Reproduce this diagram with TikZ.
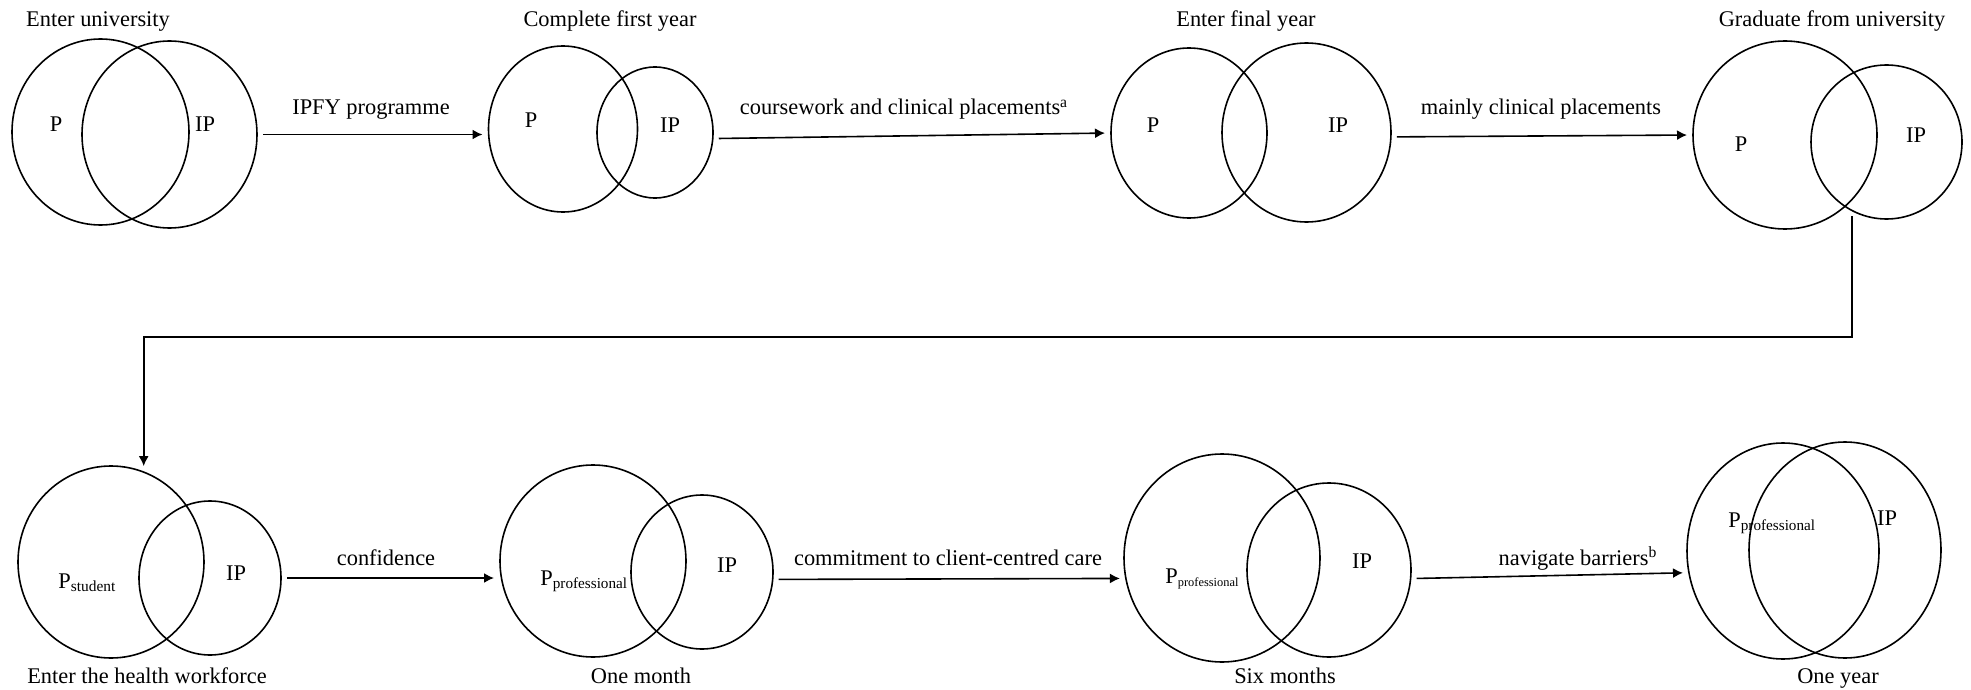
\documentclass[tikz,border=0pt]{standalone}
\usepackage{fontspec}
\setmainfont{Liberation Serif}
\usetikzlibrary{shapes.geometric,arrows.meta}

\newcommand{\psub}[2][7.6]{P\raisebox{-1.6pt}{\fontsize{#1}{#1}\selectfont #2}}

\begin{document}
\begin{tikzpicture}[x=0.5pt, y=-0.5pt,
  font=\fontsize{11.2}{13}\selectfont,
  venn/.style 2 args={draw, ellipse, inner sep=0pt, outer sep=0pt, line width=0.8pt, minimum width=#1pt, minimum height=#2pt},
  flow/.style={line width=0.8pt, -{Latex[length=5pt,width=5pt]}, shorten <=3pt, shorten >=3pt},
  lbl/.style={anchor=base, inner sep=0pt}]
\useasboundingbox (0,0) rectangle (1971,690);

\node[venn={88.5}{93}] (pA) at (100.5,132) {};
\node[venn={87.5}{93.5}] (ipA) at (169.5,134.5) {};
\node[lbl] (tA) at (98,27) {Enter university};
\node[lbl] (lpA) at (56,132) {P};
\node[lbl] (lipA) at (205,132) {IP};

\node[venn={74.5}{83}] (pB) at (563,129) {};
\node[venn={58}{65.5}] (ipB) at (655,132.5) {};
\node[lbl] (tB) at (610,27) {Complete first year};
\node[lbl] (lpB) at (531,128) {P};
\node[lbl] (lipB) at (670,133) {IP};

\node[venn={78}{85}] (pC) at (1189,133) {};
\node[venn={84.5}{89.5}] (ipC) at (1306.5,132.5) {};
\node[lbl] (tC) at (1246,27) {Enter final year};
\node[lbl] (lpC) at (1153,133) {P};
\node[lbl] (lipC) at (1338,133) {IP};

\node[venn={92}{94}] (pD) at (1785,135) {};
\node[venn={75.5}{77}] (ipD) at (1886.5,142) {};
\node[lbl] (tD) at (1832,27) {Graduate from university};
\node[lbl] (lpD) at (1741,152) {P};
\node[lbl] (lipD) at (1916,142) {IP};

\node[venn={93}{96}] (pE) at (111,562) {};
\node[venn={71}{77}] (ipE) at (210,578) {};
\node[lbl] (tE) at (147,683) {Enter the health workforce};
\node[lbl, anchor=base west] (lpE) at (58,588) {\psub[7.7]{student}};
\node[lbl] (lipE) at (236,580) {IP};

\node[venn={93}{96}] (pF) at (593,561) {};
\node[venn={71}{77}] (ipF) at (702,572) {};
\node[lbl] (tF) at (641,683) {One month};
\node[lbl, anchor=base west] (lpF) at (540,585) {\psub{professional}};
\node[lbl] (lipF) at (727,572) {IP};

\node[venn={98}{104}] (pG) at (1222,558) {};
\node[venn={82}{87}] (ipG) at (1329,570) {};
\node[lbl] (tG) at (1285,683) {Six months};
\node[lbl, anchor=base west] (lpG) at (1165,583) {\psub[6.2]{professional}};
\node[lbl] (lipG) at (1362,568) {IP};

\node[venn={96}{108}] (pH) at (1783,551) {};
\node[venn={96}{108}] (ipH) at (1845,550) {};
\node[lbl] (tH) at (1838,683) {One year};
\node[lbl, anchor=base west] (lpH) at (1728,527) {\psub{professional}};
\node[lbl] (lipH) at (1887,525) {IP};

\node[lbl] (aAB) at (371,115) {IPFY programme};
\node[lbl] (aBC) at (904,115) {coursework and clinical placements\textsuperscript{a}};
\node[lbl] (aCD) at (1541,115) {mainly clinical placements};
\node[lbl] (aEF) at (386,565) {confidence};
\node[lbl] (aFG) at (948,565) {commitment to client-centred care};
\node[lbl] (aGH) at (1578,565) {navigate barriers\textsuperscript{b}};

\coordinate (bend) at (1000,337);
\draw[flow] (ipA.east) -- (ipA.east -| pB.west);
\draw[flow] (ipB.-6) -- (pC.west);
\draw[flow] (ipC.-3) -- (pD.west);
\draw[flow] (ipD.243) |- (bend) -| (pE.70);
\draw[flow] (ipE.east) -- (ipE.east -| pF.west);
\draw[flow] (ipF.-6) -- (pG.192);
\draw[flow] (ipG.-6) -- (pH.193);
\end{tikzpicture}
\end{document}
